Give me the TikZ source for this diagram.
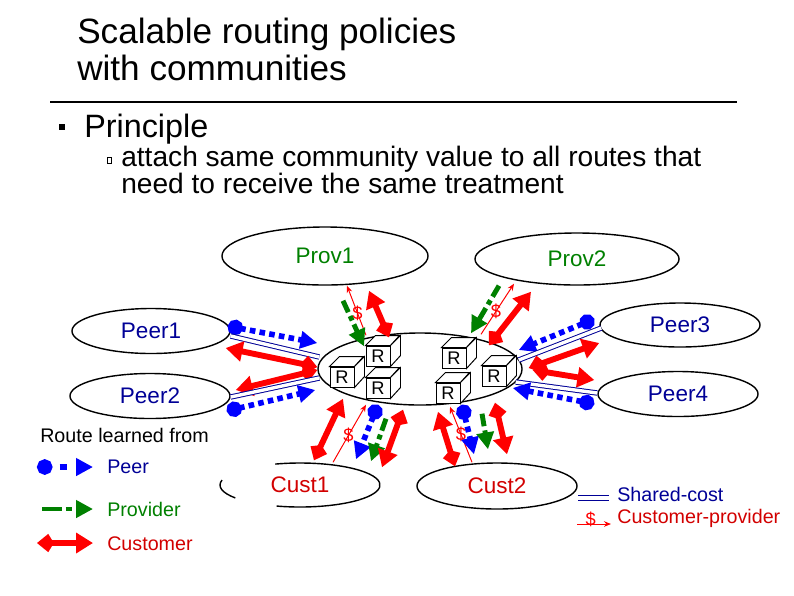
\documentclass[tikz,border=0pt]{standalone}
\usepackage{fontspec}
\setmainfont{Liberation Sans}
\usetikzlibrary{arrows.meta,shapes.geometric}

\definecolor{peerblue}{RGB}{0,0,255}
\definecolor{navytext}{RGB}{0,0,150}
\definecolor{provgreen}{RGB}{0,128,0}
\definecolor{custred}{RGB}{210,0,0}

\tikzset{
	asbox/.style={ellipse, draw, line width=1pt, inner sep=0pt, font=\fontsize{16}{18}\selectfont},
	router/.style={draw, fill=white, line width=0.7pt, minimum width=0.6cm, minimum height=0.5cm, inner sep=0pt, font=\fontsize{13}{14}\selectfont},
	peerlink/.style={peerblue, line width=4pt, dash pattern=on 4pt off 3pt, {Circle[length=11pt]}-{Triangle[length=12pt,width=12pt]}},
	provlink/.style={provgreen, line width=3.5pt, dash pattern=on 9pt off 3pt on 3.5pt off 3pt, -{Triangle[length=12pt,width=12pt]}},
	custlink/.style={red, line width=4.2pt, {Kite[length=12pt,width=13pt,inset=4pt]}-{Triangle[length=12pt,width=14pt]}},
	sharedlink/.style={draw=navytext, double=white, line width=0.7pt, double distance=2.4pt},
	paylink/.style={red, line width=0.7pt, -{Stealth[length=5pt,width=4pt]}},
	dollar/.style={text=red, font=\fontsize{13}{13}\selectfont, inner sep=0pt},
	legtxt/.style={anchor=west, inner sep=0pt, font=\fontsize{14}{16}\selectfont}
}

\begin{document}
\begin{tikzpicture}[x=0.025cm, y=-0.025cm]
	\useasboundingbox (0,0) rectangle (794,595);

	\node at (77,43) [anchor=base west, inner sep=0pt, font=\fontsize{25}{28}\selectfont] (title1) {Scalable routing policies};
	\node at (77,80) [anchor=base west, inner sep=0pt, font=\fontsize{25}{28}\selectfont] (title2) {with communities};
	\draw [line width=1.2pt] (50,102) -- (737,102);
	\fill (59,124) rectangle (65,130);
	\node at (84,137) [anchor=base west, inner sep=0pt, font=\fontsize{23}{26}\selectfont] (principle) {Principle};
	\draw [line width=0.5pt] (107,157) rectangle (111,163);
	\node at (121,166) [anchor=base west, inner sep=0pt, font=\fontsize{20}{20}\selectfont] (sub1) {attach same community value to all routes that};
	\node at (121,193) [anchor=base west, inner sep=0pt, font=\fontsize{20}{20}\selectfont] (sub2) {need to receive the same treatment};

	% domains
	\node at (325,256) [asbox, minimum width=5.15cm, minimum height=1.45cm, text=provgreen] (prov1) {Prov1};
	\node at (577,259) [asbox, minimum width=5.1cm, minimum height=1.3cm, text=provgreen] (prov2) {Prov2};
	\node at (151,331) [asbox, minimum width=3.95cm, minimum height=1.125cm, text=navytext] (peer1) {Peer1};
	\node at (150,396) [asbox, minimum width=4cm, minimum height=1.125cm, text=navytext] (peer2) {Peer2};
	\node at (680,325) [asbox, minimum width=4cm, minimum height=1.1cm, text=navytext] (peer3) {Peer3};
	\node at (678,394) [asbox, minimum width=4cm, minimum height=1.125cm, text=navytext] (peer4) {Peer4};
	\node at (300,485) [asbox, draw=none, minimum width=4cm, minimum height=1.1cm, text=custred] (cust1) {Cust1};
	\draw [line width=1pt] ([shift={(-108:80 and 22)}]cust1.center) arc[start angle=-108, end angle=107, x radius=80, y radius=22];
	\draw [line width=1pt] ([shift={(144:80 and 22)}]cust1.center) arc[start angle=144, end angle=193, x radius=80, y radius=22];
	\node at (497,486) [asbox, minimum width=4cm, minimum height=1.15cm, text=custred] (cust2) {Cust2};
	\node at (420,369) [asbox, minimum width=5.1cm, minimum height=1.8cm] (as) {};

	% routers
	\foreach \rt/\x/\y in {r1/378/356, r4/454/358, r2/342/377, r6/494/376, r3/378/388, r5/448/393} {
		\node at (\x,\y) [router] (\rt) {R};
		\filldraw [fill=white, line width=0.7pt] (\rt.north west) -- ++(10,-10) -- ++(24,0) -- (\rt.north east) -- cycle;
		\filldraw [fill=white, line width=0.7pt] (\rt.north east) -- ++(10,-10) -- ++(0,20) -- (\rt.south east) -- cycle;
	}

	% peers on the left
	\draw [peerlink] ([shift={(-3,-5)}]peer1.east) -- ([shift={(0,-26)}]as.west);
	\draw [sharedlink] ([shift={(0,5)}]peer1.east) -- ([shift={(2,-12)}]as.west);
	\draw [custlink] ([shift={(0,-2)}]as.west) -- ([shift={(-5,17)}]peer1.east);
	\draw [custlink] ([shift={(0,1)}]as.west) -- ([shift={(5,-6)}]peer2.east);
	\draw [sharedlink] ([shift={(0,1)}]peer2.east) -- ([shift={(2,9)}]as.west);
	\draw [peerlink] ([shift={(-4,15)}]peer2.east) -- ([shift={(-2,21)}]as.west);

	% peers on the right
	\draw [peerlink] ([shift={(-5,-6)}]peer3.west) -- ([shift={(-4,-19)}]as.east);
	\draw [sharedlink] ([shift={(2,3)}]peer3.west) -- ([shift={(-4,-9)}]as.east);
	\draw [custlink] ([shift={(6,-1)}]as.east) -- ([shift={(0,18)}]peer3.west);
	\draw [custlink] ([shift={(10,1)}]as.east) -- ([shift={(-3,-14)}]peer4.west);
	\draw [sharedlink] ([shift={(0,-1)}]peer4.west) -- ([shift={(-7,13)}]as.east);
	\draw [peerlink] ([shift={(-3,10)}]peer4.west) -- ([shift={(-10,19)}]as.east);

	% providers
	\draw [paylink] ([shift={(-54,3)}]as.north) -- ([shift={(22,0)}]prov1.south) node[dollar, pos=.45] {\$};
	\draw [provlink] ([shift={(18,15)}]prov1.south) -- ([shift={(-56,14)}]as.north);
	\draw [custlink] ([shift={(-31,5)}]as.north) -- ([shift={(44,5)}]prov1.south);
	\draw [provlink] ([shift={(-78,0)}]prov2.south) -- ([shift={(51,1)}]as.north);
	\draw [paylink] ([shift={(61,2)}]as.north) -- ([shift={(-63,-2)}]prov2.south) node[dollar, pos=.45] {\$};
	\draw [custlink] ([shift={(69,13)}]as.north) -- ([shift={(-46,6)}]prov2.south);

	% customers
	\draw [custlink] ([shift={(14,-2)}]cust1.north) -- ([shift={(-77,-7)}]as.south);
	\draw [paylink] ([shift={(33,0)}]cust1.north) -- ([shift={(-54,-1)}]as.south) node[dollar, pos=.47] {\$};
	\draw [peerlink] ([shift={(-42,-1)}]as.south) -- ([shift={(56,-3)}]cust1.north);
	\draw [provlink] ([shift={(-34,13)}]as.south) -- ([shift={(71,-1)}]cust1.north);
	\draw [custlink] ([shift={(-17,4)}]as.south) -- ([shift={(82,5)}]cust1.north);
	\draw [custlink] ([shift={(-42,4)}]cust2.north) -- ([shift={(18,6)}]as.south);
	\draw [paylink] ([shift={(-25,0)}]cust2.north) -- ([shift={(30,1)}]as.south) node[dollar, pos=.5] {\$};
	\draw [peerlink] ([shift={(42,-1)}]as.south) -- ([shift={(-23,-8)}]cust2.north);
	\draw [provlink] ([shift={(62,8)}]as.south) -- ([shift={(-9,-13)}]cust2.north);
	\draw [custlink] ([shift={(75,-3)}]as.south) -- ([shift={(10,-8)}]cust2.north);

	% legend
	\node at (40,435) [legtxt] (lgroute) {Route learned from};
	\node at (107,467) [legtxt, text=navytext] (lgpeer) {Peer};
	\node at (107,509) [legtxt, text=provgreen] (lgprov) {Provider};
	\node at (107,544) [legtxt, text=custred] (lgcust) {Customer};
	\draw [peerlink, dash pattern=on 0pt off 7pt on 5pt off 30pt] ([shift={(-70,0)}]lgpeer.west) -- ([shift={(-14,0)}]lgpeer.west);
	\draw [provlink, dash pattern=on 14pt off 3pt on 4pt off 30pt] ([shift={(-65,0)}]lgprov.west) -- ([shift={(-14,0)}]lgprov.west);
	\draw [custlink] ([shift={(-70,-1)}]lgcust.west) -- ([shift={(-14,-1)}]lgcust.west);

	\node at (617,494) [legtxt, text=navytext] (lgshared) {Shared-cost};
	\node at (617,518) [legtxt, text=custred] (lgpay) {Customer-provider};
	\draw [sharedlink] ([shift={(-39,4)}]lgshared.west) -- ([shift={(-8,4)}]lgshared.west);
	\draw [paylink] ([shift={(-40,6)}]lgpay.west) -- ([shift={(-6,6)}]lgpay.west) node[dollar, pos=.4, yshift=3pt] {\$};
\end{tikzpicture}
\end{document}
